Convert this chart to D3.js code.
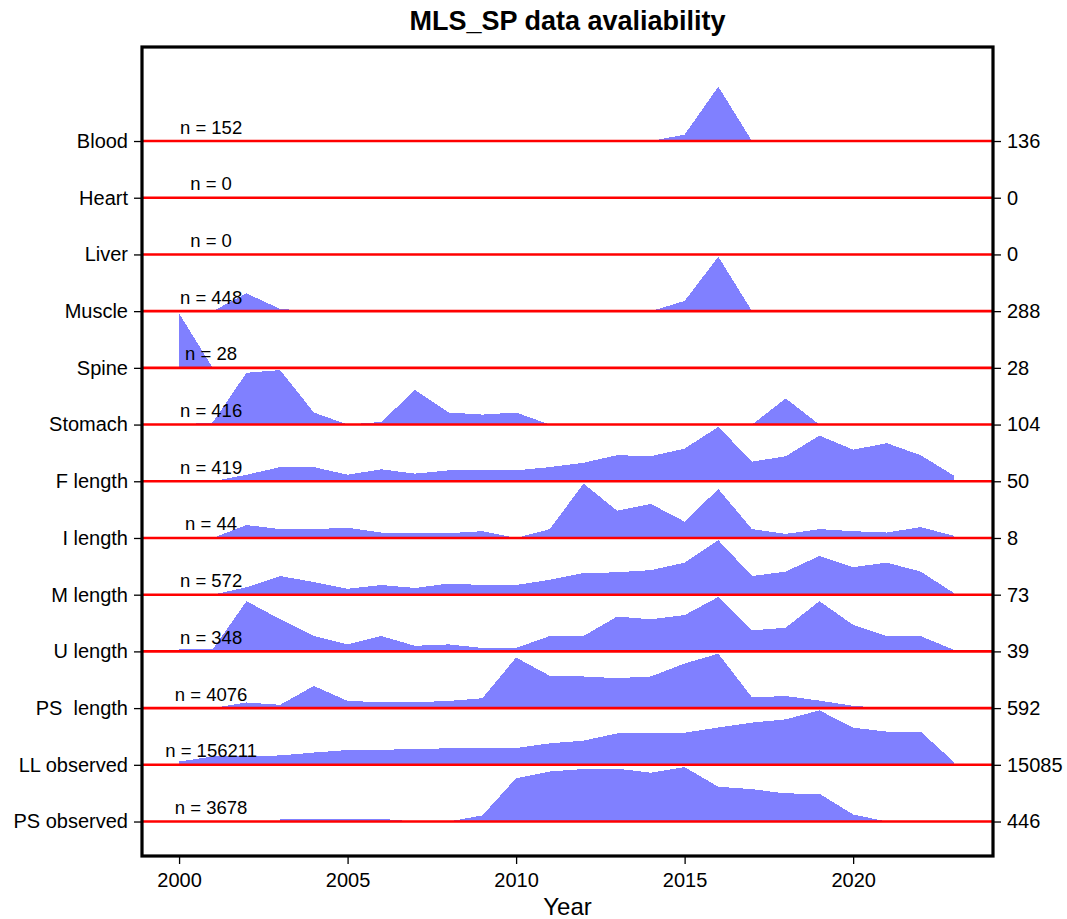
<!DOCTYPE html>
<html>
<head>
<meta charset="utf-8">
<script src="https://cdn.jsdelivr.net/npm/d3@7"></script>
<style>
  html, body { margin: 0; padding: 0; background: #ffffff; }
  svg { display: block; font-family: "Liberation Sans", Arial, sans-serif; }
</style>
</head>
<body>
<svg id="chart" width="1067" height="919"></svg>
<script>
// Sampling years (x categories)
const years = [2000, 2001, 2002, 2003, 2004, 2005, 2006, 2007, 2008, 2009, 2010, 2011,
               2012, 2013, 2014, 2015, 2016, 2017, 2018, 2019, 2020, 2021, 2022, 2023];
const xTicks = [2000, 2005, 2010, 2015, 2020];

// Data types, listed top to bottom
const categories = ["Blood", "Heart", "Liver", "Muscle", "Spine", "Stomach",
                    "F length", "I length", "M length", "U length", "PS  length",
                    "LL observed", "PS observed"];

// Yearly record counts per data type (null = no record for that year)
const blood    = [0,0,0,0,0,0,0,0,0,0,0,0,0,0,0,16,136,0,0,0,0,0,0,0];
const heart    = [0,0,0,0,0,0,0,0,0,0,0,0,0,0,0,0,0,0,0,0,0,0,0,0];
const liver    = [0,0,0,0,0,0,0,0,0,0,0,0,0,0,0,0,0,0,0,0,0,0,0,0];
const muscle   = [0,0,94,12,0,0,0,0,0,0,0,0,0,0,0,54,288,0,0,0,0,0,0,0];
const spine    = [28,0,0,0,0,0,0,0,0,0,0,0,0,0,0,0,0,0,0,0,0,0,0,0];
const stomach  = [0,4,99,104,23,0,5,66,23,19,23,0,0,0,0,0,0,0,50,0,0,0,0,0];
const fLength  = [0,0,6,13,13,6,11,7,10,10,10,13,17,24,23,30,50,18,23,42,29,35,24,5];
const iLength  = [0,0,1.9,1.3,1.3,1.5,0.8,0.7,0.7,1.0,0,1.3,8,4.0,5.0,2.4,7.2,1.3,0.6,1.3,1.0,0.8,1.6,0.3];
const mLength  = [0,0,10,25,17,8,13,9,15,13,13,20,29,30,33,43,73,25,31,52,37,43,31,2];
const uLength  = [1.5,1.5,36,23,11,5,11,4,5,2.5,2.5,11,11,25,23,26,39,15,17,36,19,11,11,1];
const psLength = [0,0,61,36,241,78,64,64,78,107,550,351,344,326,344,485,592,117,131,82,25,0,0,0];
const llObs    = [900,2300,2400,2600,3400,4100,4200,4300,4600,4600,4650,5950,6700,8700,8750,
                  8900,10350,11700,12600,15085,10300,9200,9200,726];
const psObs    = [null,null,null,22,22,22,22,0,0,50,355,410,430,433,400,446,285,265,230,228,58,0,0,0];

const seriesList = [blood, heart, liver, muscle, spine, stomach, fLength, iLength,
                    mLength, uLength, psLength, llObs, psObs];

const svg = d3.select("#chart");

// Row i sits at level (13 - i); each profile is scaled to its own maximum
const nRows = categories.length;
const rowLevel = i => nRows - i;
const peak = 0.96;

const x = d3.scaleLinear().domain([1998.9, 2024.15]).range([142, 993]);
const y = d3.scaleLinear().domain([0.392, 14.658]).range([856, 47]);

const [xl, xr] = x.range();
const [yb, yt] = y.range();

// Filled availability profiles
const fills = svg.append("g");
seriesList.forEach((vals, i) => {
  const maxV = d3.max(vals, v => v == null ? 0 : v);
  if (!maxV) return;
  const base = rowLevel(i);
  const pts = years.map((yr, j) => ({ yr, v: vals[j] }));
  const area = d3.area()
    .defined(d => d.v != null)
    .x(d => x(d.yr))
    .y0(y(base))
    .y1(d => y(base + peak * d.v / maxV));
  fills.append("path")
    .datum(pts)
    .attr("d", area)
    .attr("fill", "#8080ff")
    .attr("shape-rendering", "crispEdges");
});

// Baselines
svg.append("g").selectAll("line")
  .data(categories)
  .join("line")
  .attr("x1", xl).attr("x2", xr)
  .attr("y1", (d, i) => y(rowLevel(i)))
  .attr("y2", (d, i) => y(rowLevel(i)))
  .attr("stroke", "#ff0000")
  .attr("stroke-width", 2.6);

// Totals per row
svg.append("g").selectAll("text")
  .data(seriesList)
  .join("text")
  .attr("x", x(2000.95))
  .attr("y", (d, i) => y(rowLevel(i)) - 7.5)
  .attr("text-anchor", "middle")
  .attr("font-size", 18.5)
  .attr("fill", "#000")
  .text(d => "n = " + Math.round(d3.sum(d, v => v == null ? 0 : v)));

// Axes
const levels = categories.map((c, i) => rowLevel(i));

const bottom = svg.append("g")
  .attr("transform", `translate(0,${yb})`)
  .call(d3.axisBottom(x).tickValues(xTicks).tickFormat(d3.format("d"))
        .tickSize(8).tickPadding(9));

const left = svg.append("g")
  .attr("transform", `translate(${xl},0)`)
  .call(d3.axisLeft(y).tickValues(levels)
        .tickFormat(v => categories[nRows - v])
        .tickSize(8).tickPadding(6));

const right = svg.append("g")
  .attr("transform", `translate(${xr},0)`)
  .call(d3.axisRight(y).tickValues(levels)
        .tickFormat(v => String(Math.round(d3.max(seriesList[nRows - v], s => s == null ? 0 : s))))
        .tickSize(8).tickPadding(6));

[bottom, left, right].forEach(g => {
  g.select(".domain").remove();
  g.selectAll(".tick line").attr("stroke", "#000").attr("stroke-width", 1.3);
  g.selectAll(".tick text")
    .attr("font-family", "Liberation Sans, Arial, sans-serif")
    .attr("font-size", 20)
    .attr("fill", "#000")
    .style("white-space", "pre");
});

// Plot frame
svg.append("rect")
  .attr("x", xl).attr("y", yt)
  .attr("width", xr - xl).attr("height", yb - yt)
  .attr("fill", "none")
  .attr("stroke", "#000")
  .attr("stroke-width", 3.2);

// Title and axis title
svg.append("text")
  .attr("x", (xl + xr) / 2).attr("y", 30)
  .attr("text-anchor", "middle")
  .attr("font-size", 27)
  .attr("font-weight", "bold")
  .attr("fill", "#000")
  .text("MLS_SP data avaliability");

svg.append("text")
  .attr("x", (xl + xr) / 2).attr("y", 915)
  .attr("text-anchor", "middle")
  .attr("font-size", 24)
  .attr("fill", "#000")
  .text("Year");
</script>
</body>
</html>
